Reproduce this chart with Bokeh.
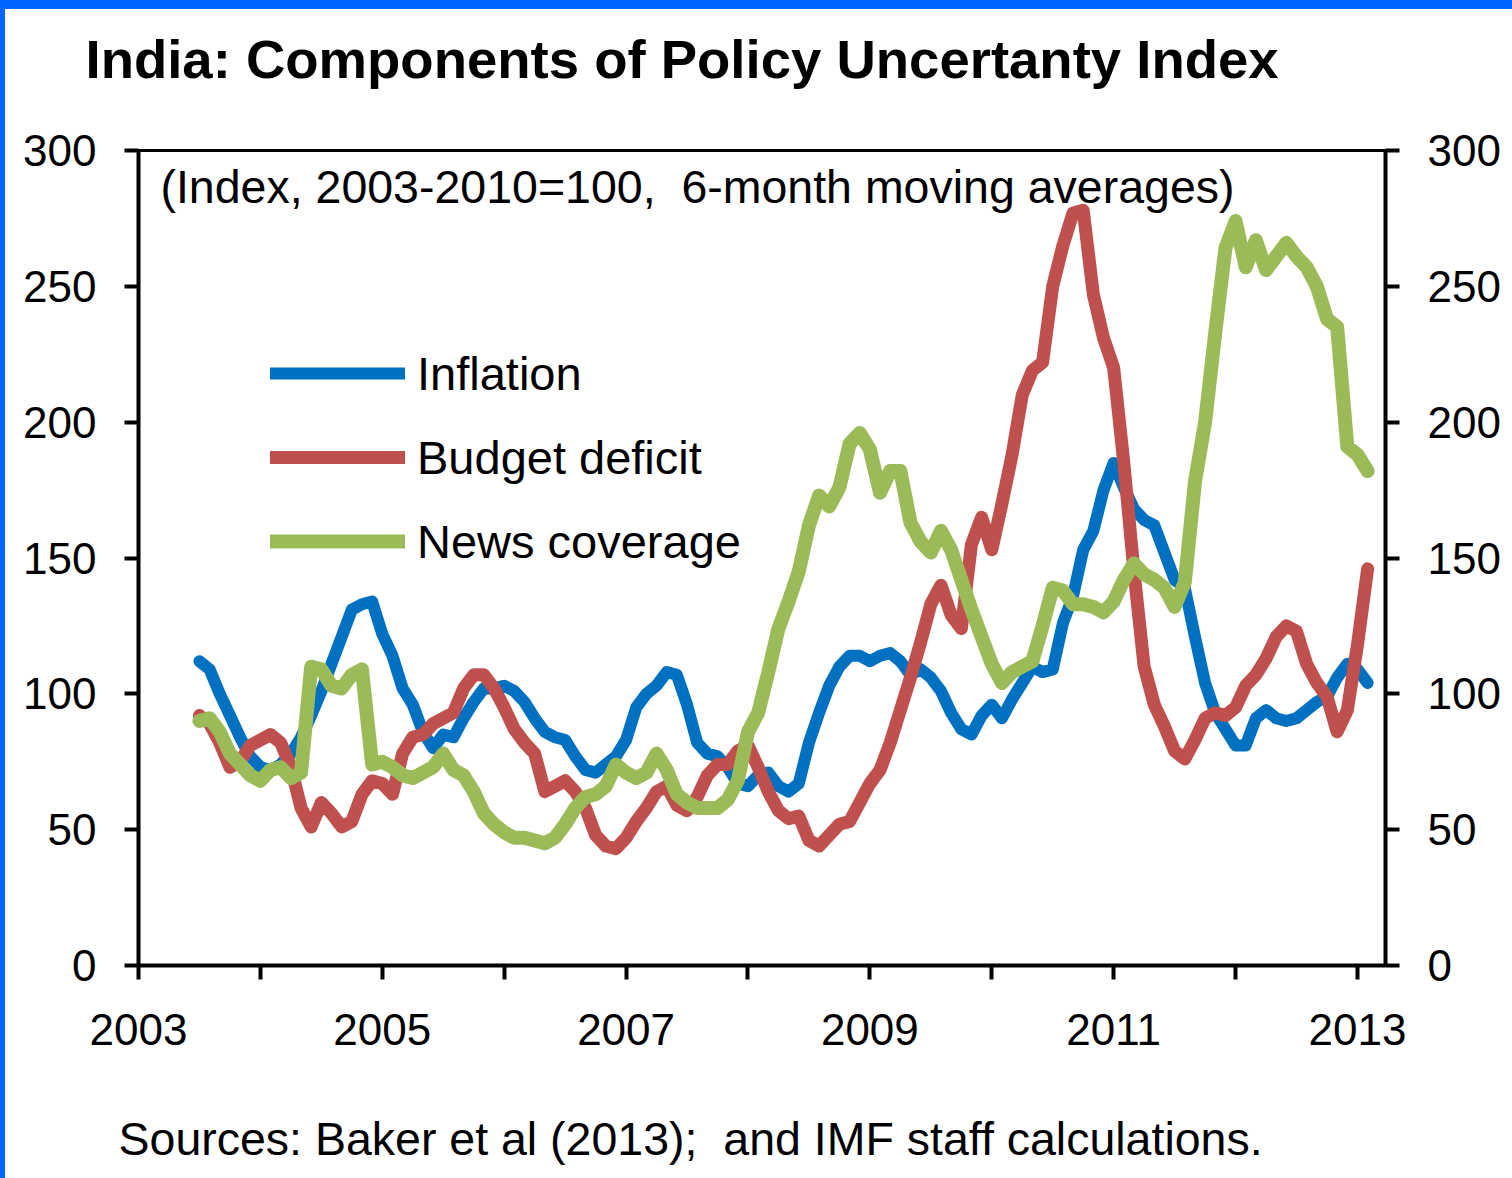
import pandas as pd
from bokeh.plotting import figure
from bokeh.models import (LinearAxis, FixedTicker, Legend, LegendItem, Label, Title,
                          ColumnDataSource, Div, Range1d)
from bokeh.layouts import column, row
from bokeh.embed import file_html
from bokeh.resources import INLINE

# ---------------- data (6-month moving averages, monthly, Jul-2003 .. Feb-2013) ----------------
months = pd.date_range("2003-07-01", periods=116, freq="MS")

inflation = [
    112, 109, 100, 92, 84, 77, 73, 72, 74, 78,
    84, 92, 101, 111, 121, 131, 133, 134, 122, 114,
    102, 96, 86, 80, 85, 84, 91, 97, 102, 102,
    103, 101, 97, 91, 86, 84, 83, 77, 72, 71,
    74, 77, 83, 95, 100, 103, 108, 107, 96, 82,
    78, 77, 73, 67, 66, 70, 71, 66, 64, 67,
    82, 93, 103, 110, 114, 114, 112, 114, 115, 112,
    107, 109, 106, 101, 93, 87, 85, 92, 96, 91,
    98, 104, 110, 108, 109, 126, 136, 153, 160, 175,
    185, 176, 168, 164, 162, 152, 142, 139, 121, 104,
    93, 87, 81, 81, 91, 94, 91, 90, 91, 94,
    97, 99, 106, 111, 109, 104,
]

budget_deficit = [
    92, 89, 82, 73, 75, 81, 83, 85, 82, 73,
    58, 51, 60, 56, 51, 53, 63, 68, 67, 63,
    78, 84, 85, 89, 91, 93, 102, 107, 107, 102,
    95, 87, 82, 78, 64, 66, 68, 64, 58, 48,
    44, 43, 47, 53, 58, 64, 66, 59, 57, 62,
    70, 74, 74, 79, 81, 73, 64, 57, 54, 55,
    46, 44, 48, 52, 53, 60, 67, 72, 82, 94,
    106, 119, 133, 140, 129, 124, 155, 165, 153, 170,
    188, 210, 219, 222, 250, 265, 277, 278, 247, 231,
    220, 185, 145, 110, 96, 88, 79, 76, 83, 91,
    93, 92, 95, 103, 107, 113, 121, 125, 123, 111,
    104, 99, 86, 94, 118, 146,
]

news_coverage = [
    90, 91, 86, 78, 74, 70, 68, 72, 73, 69,
    71, 110, 109, 103, 102, 107, 109, 74, 75, 73,
    70, 69, 71, 73, 78, 72, 70, 64, 56, 52,
    49, 47, 47, 46, 45, 47, 52, 58, 62, 63,
    66, 74, 71, 69, 71, 78, 72, 63, 60, 58,
    58, 58, 61, 68, 86, 93, 108, 124, 134, 145,
    162, 173, 169, 176, 192, 196, 190, 174, 182, 182,
    163, 156, 152, 160, 153, 142, 131, 121, 111, 104,
    108, 110, 112, 125, 139, 138, 133, 133, 132, 130,
    134, 142, 148, 144, 142, 139, 132, 141, 178, 200,
    233, 264, 274, 257, 267, 256, 261, 266, 261, 257,
    250, 238, 235, 191, 188, 182,
]

series_names = ["Inflation", "Budget deficit", "News coverage"]
series_colors = ["#0070C0", "#C0504D", "#9BBB59"]

y_ticks = [0, 50, 100, 150, 200, 250, 300]
x_label_years = [2003, 2005, 2007, 2009, 2011, 2013]
x_minor_years = [2004, 2006, 2008, 2010, 2012]

title_text = "India: Components of Policy Uncertanty Index"
subtitle_text = "(Index, 2003-2010=100,\u00a0 6-month moving averages)"
source_text = "Sources: Baker et al (2013);\u00a0 and IMF staff calculations."

# ---------------- figure ----------------
FONT = "Liberation Sans"
x_year = [d.year + (d.month - 1) / 12 for d in months]
src = ColumnDataSource(dict(x=x_year, inflation=inflation,
                            budget=budget_deficit, news=news_coverage))

p = figure(width=1507, height=1169,
           x_range=Range1d(2003, 2013.23), y_range=Range1d(0, 300),
           output_backend="svg", toolbar_location=None,
           min_border_left=133, min_border_right=127,
           min_border_top=141, min_border_bottom=213,
           title=None)
p.background_fill_color = "white"
p.border_fill_color = "white"
p.xgrid.visible = False
p.ygrid.visible = False
p.outline_line_color = "black"
p.outline_line_width = 3

# axes
right_axis = LinearAxis()
p.add_layout(right_axis, "right")
for ax in [p.yaxis[0], right_axis]:
    ax.ticker = FixedTicker(ticks=y_ticks)
    ax.major_tick_out = 14
    ax.major_tick_in = 0
    ax.minor_tick_out = 0
    ax.minor_tick_in = 0
    ax.axis_line_width = 4
    ax.axis_line_color = "black"
    ax.major_tick_line_width = 4
    ax.major_tick_line_color = "black"
    ax.major_label_text_font = FONT
    ax.major_label_text_font_size = "44px"
    ax.major_label_text_color = "black"
    ax.major_label_standoff = 28

xa = p.xaxis[0]
xa.ticker = FixedTicker(ticks=x_label_years, minor_ticks=x_minor_years)
xa.formatter.use_scientific = False
xa.major_tick_out = 14
xa.major_tick_in = 0
xa.minor_tick_out = 14
xa.minor_tick_in = 0
xa.axis_line_width = 4
xa.axis_line_color = "black"
xa.major_tick_line_width = 4
xa.minor_tick_line_width = 4
xa.major_tick_line_color = "black"
xa.minor_tick_line_color = "black"
xa.major_label_text_font = FONT
xa.major_label_text_font_size = "44px"
xa.major_label_text_color = "black"
xa.major_label_standoff = 34

# series
renderers = []
for col, name, color, lw in zip(["inflation", "budget", "news"], series_names,
                                series_colors, [12, 13, 14]):
    r = p.line("x", col, source=src, line_color=color, line_width=lw,
               line_join="round", line_cap="round")
    renderers.append(r)

legend = Legend(items=[LegendItem(label=n, renderers=[r]) for n, r in zip(series_names, renderers)],
                location=(132, 394), orientation="vertical",
                glyph_width=135, glyph_height=60, label_height=60,
                label_standoff=12, spacing=24, padding=0, margin=0,
                border_line_color=None, background_fill_alpha=0,
                label_text_font=FONT, label_text_font_size="47px",
                label_text_color="black")
p.add_layout(legend)

p.add_layout(Label(x=2003.18, y=286.5, text=subtitle_text, text_font=FONT,
                   text_font_size="46.5px", text_baseline="alphabetic",
                   text_color="black"))

# title (above): a blank spacer next to the frame, then the title text
p.add_layout(Title(text="\u00a0", text_font_size="10px", standoff=32,
                   text_color="white"), "above")
p.add_layout(Title(text=title_text, align="left", offset=-53, standoff=32,
                   vertical_align="bottom", text_font=FONT, text_font_size="54.5px",
                   text_font_style="bold", text_color="black"), "above")

# source note (below): spacer after the axis, then the note
p.add_layout(Title(text="\u00a0", text_font_size="10px", standoff=50,
                   text_color="white"), "below")
p.add_layout(Title(text=source_text, align="left", offset=-20, standoff=4,
                   vertical_align="top", text_font=FONT, text_font_size="46.5px",
                   text_font_style="normal", text_color="black"), "below")

top_bar = Div(text="", width=1512, height=9, margin=0,
              styles={"background-color": "#0066ff"})
left_bar = Div(text="", width=5, height=1169, margin=0,
               styles={"background-color": "#0066ff"})
page = column(top_bar, row(left_bar, p, spacing=0), spacing=0)

open("out.html", "w").write(file_html(page, INLINE))
